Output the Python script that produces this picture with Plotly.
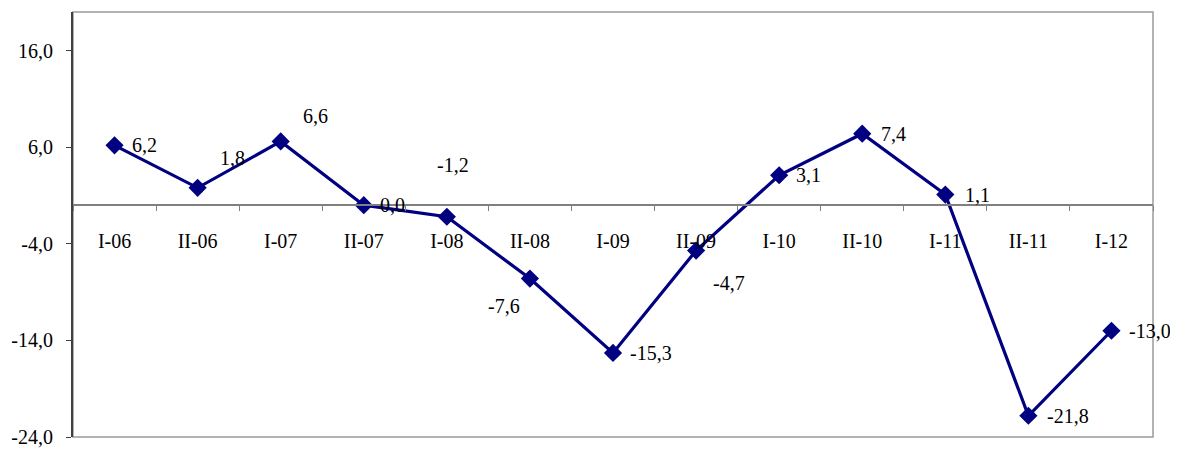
import plotly.graph_objects as go

categories = ["I-06", "II-06", "I-07", "II-07", "I-08", "II-08", "I-09",
              "II-09", "I-10", "II-10", "I-11", "II-11", "I-12"]
values = [6.2, 1.8, 6.6, 0.0, -1.2, -7.6, -15.3, -4.7, 3.1, 7.4, 1.1, -21.8, -13.0]
labels = ["6,2", "1,8", "6,6", "0,0", "-1,2", "-7,6", "-15,3", "-4,7",
          "3,1", "7,4", "1,1", "-21,8", "-13,0"]
ytick_vals = [-24, -14, -4, 6, 16]
ytick_text = ["-24,0", "-14,0", "-4,0", "6,0", "16,0"]

# label offsets in pixels (x, y; y positive = up)
label_dx = [15, 20, 20, 14, -12, -44, 15, 15, 15, 17, 18, 17, 16]
label_dy = [0, 30, 25, 0, 52, -27, 0, -32, 0, 0, 0, 0, 0]

FONT = "Liberation Serif"
NAVY = "#000080"

fig = go.Figure()
fig.add_trace(go.Scatter(
    x=categories, y=values, mode="lines+markers",
    line=dict(color=NAVY, width=3.2),
    marker=dict(symbol="diamond", size=14, color=NAVY),
    showlegend=False, hoverinfo="skip", cliponaxis=False,
))

for c, v, t, dx, dy in zip(categories, values, labels, label_dx, label_dy):
    fig.add_annotation(x=c, y=v, text=t, showarrow=False,
                       xanchor="left", yanchor="middle",
                       xshift=dx, yshift=dy,
                       font=dict(family=FONT, size=20, color="black"))

fig.update_layout(
    width=1170, height=443,
    margin=dict(l=65, r=25, t=4, b=14, autoexpand=False),
    paper_bgcolor="white", plot_bgcolor="white",
    font=dict(family=FONT, size=20, color="black"),
    xaxis=dict(
        type="category", range=[-0.5, 12.5],
        anchor="free", position=24 / 44, automargin=False,
        showline=True, linecolor="#808080", linewidth=2,
        ticks="outside", tickson="boundaries", ticklen=5,
        tickcolor="#808080", tickwidth=1,
        ticklabelstandoff=18,
        showgrid=False, zeroline=False,
        tickfont=dict(family=FONT, size=20, color="black"),
    ),
    yaxis=dict(
        range=[-24, 20], automargin=False,
        tickvals=ytick_vals, ticktext=ytick_text,
        showline=True, linecolor="#404040", linewidth=2,
        ticks="outside", ticklen=5, tickcolor="#404040",
        ticklabelstandoff=9,
        showgrid=False, zeroline=False,
        tickfont=dict(family=FONT, size=20, color="black"),
    ),
    shapes=[dict(type="rect", xref="paper", yref="paper",
                 x0=0, x1=1, y0=0, y1=1,
                 line=dict(color="#9a9a9a", width=1.5), layer="below")],
)

fig.write_html("out.html")
